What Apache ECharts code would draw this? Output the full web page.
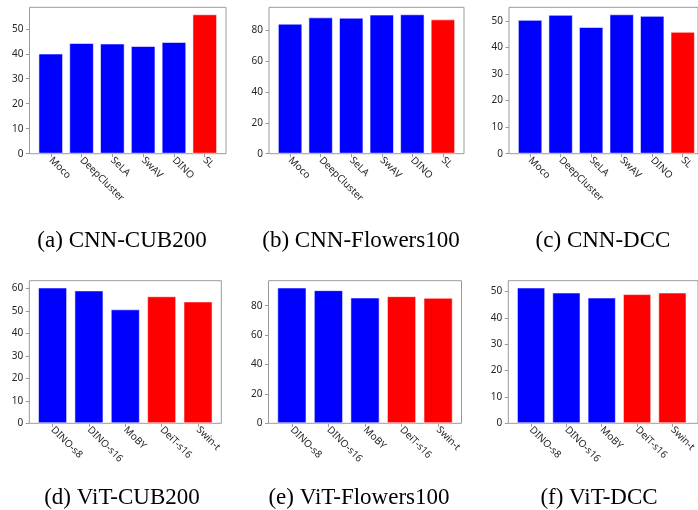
<!DOCTYPE html>
<html>
<head>
<meta charset="utf-8">
<script src="https://cdn.jsdelivr.net/npm/echarts@6/dist/echarts.min.js"></script>
<style>
html,body{margin:0;padding:0;background:#fff;}
#chart{width:698px;height:510px;}
</style>
</head>
<body>
<div id="chart"></div>
<script>
// ---- data ----
const cnnMethods = ['Moco', 'DeepCluster', 'SeLA', 'SwAV', 'DINO', 'SL'];
const vitMethods = ['DINO-s8', 'DINO-s16', 'MoBY', 'DeiT-s16', 'Swin-t'];
const supervised = ['SL', 'DeiT-s16', 'Swin-t'];

const cnnCub200 = [40.1, 44.3, 44.1, 43.1, 44.7, 55.8];
const cnnFlowers100 = [84.5, 88.6, 88.4, 90.4, 90.6, 87.3];
const cnnDcc = [50.4, 52.3, 47.7, 52.5, 51.9, 45.9];
const vitCub200 = [60.4, 59.1, 50.7, 56.5, 54.2];
const vitFlowers100 = [92.4, 90.6, 85.6, 86.5, 85.4];
const vitDcc = [51.5, 49.6, 47.7, 49.0, 49.6];

const ticks50 = [0, 10, 20, 30, 40, 50];
const ticks60 = [0, 10, 20, 30, 40, 50, 60];
const ticks80 = [0, 20, 40, 60, 80];

const captions = ['(a) CNN-CUB200', '(b) CNN-Flowers100', '(c) CNN-DCC',
                  '(d) ViT-CUB200', '(e) ViT-Flowers100', '(f) ViT-DCC'];

// ---- layout ----
const panels = [
  {cats: cnnMethods, vals: cnnCub200, ticks: ticks50, box: [29.5, 7.3, 196.5, 146.4], cap: [117, 236]},
  {cats: cnnMethods, vals: cnnFlowers100, ticks: ticks80, box: [269, 7.3, 195, 146.4], cap: [356, 236]},
  {cats: cnnMethods, vals: cnnDcc, ticks: ticks50, box: [509, 7.3, 196, 146.4], cap: [598, 236]},
  {cats: vitMethods, vals: vitCub200, ticks: ticks60, box: [29.3, 280.7, 192, 142.6], cap: [117, 493]},
  {cats: vitMethods, vals: vitFlowers100, ticks: ticks80, box: [268.5, 280.7, 193, 142.6], cap: [354, 493]},
  {cats: vitMethods, vals: vitDcc, ticks: ticks50, box: [508.3, 280.7, 192, 142.6], cap: [594, 493]}
];

const FONT = 'Noto Sans';
const TXT = '#262626';
const SPINE = '#9a9a9a';

const grid = [], xAxis = [], yAxis = [], series = [], title = [];
panels.forEach((p, k) => {
  const [L, T, W, H] = p.box;
  const n = p.cats.length;
  const span = 1.1 * (n - 0.2);      // matplotlib xlim span with 5% margins
  const u = W / span;
  const innerLeft = L + (span - n) / 2 * u;
  const yMax = Math.max(...p.vals) * 1.05;
  const gf = 2 * k, gb = 2 * k + 1;

  // frame grid with y axis
  grid.push({left: L, top: T, width: W, height: H, show: true, borderColor: SPINE, borderWidth: 1, backgroundColor: 'transparent', containLabel: false});
  xAxis.push({type: 'value', gridIndex: gf, min: 0, max: 1, show: false});
  yAxis.push({
    type: 'value', gridIndex: gf, min: 0, max: yMax,
    axisLine: {show: false},
    splitLine: {show: false},
    axisTick: {show: true, length: 3.5, lineStyle: {color: SPINE, width: 1}, customValues: p.ticks},
    axisLabel: {color: TXT, fontFamily: FONT, fontSize: 10, margin: 6, customValues: p.ticks}
  });

  // bar grid (category bands)
  grid.push({left: innerLeft, top: T, width: n * u, height: H, show: false, containLabel: false});
  xAxis.push({
    type: 'category', gridIndex: gb, data: p.cats,
    axisLine: {show: false},
    axisTick: {show: true, alignWithLabel: true, length: 3.5, lineStyle: {color: SPINE, width: 1}},
    axisLabel: {rotate: -45, color: TXT, fontFamily: FONT, fontSize: 10, margin: 5, interval: 0}
  });
  yAxis.push({type: 'value', gridIndex: gb, min: 0, max: yMax, show: false, splitLine: {show: false}});

  series.push({
    type: 'bar', xAxisIndex: gb, yAxisIndex: gb, data: p.vals,
    barWidth: '80%',
    itemStyle: {
      color: params => supervised.includes(params.name) ? '#ff0000' : '#0000ff',
      borderColor: 'rgba(255,255,255,0.55)', borderWidth: 1
    },
    emphasis: {disabled: true},
    animation: false
  });

  title.push({
    text: captions[k], left: p.cap[0], top: p.cap[1],
    textAlign: 'center', textVerticalAlign: 'middle',
    textStyle: {fontFamily: 'Liberation Serif', fontSize: 23, fontWeight: 'normal', color: '#000'}
  });
});

const chart = echarts.init(document.getElementById('chart'), null, {renderer: 'canvas'});
chart.setOption({animation: false, title, grid, xAxis, yAxis, series});
</script>
</body>
</html>
